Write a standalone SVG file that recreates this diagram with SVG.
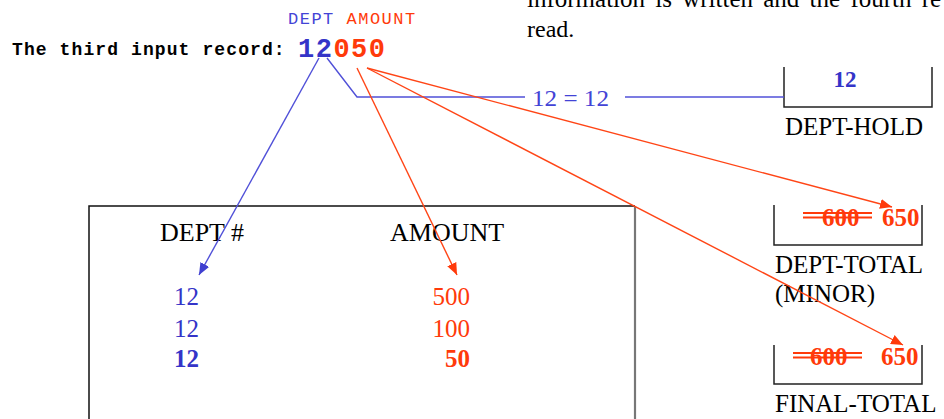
<svg xmlns="http://www.w3.org/2000/svg" width="944" height="419" viewBox="0 0 944 419">
<defs>
<style>
.serif{font-family:"Liberation Serif","Times New Roman",serif}
.mono{font-family:"Liberation Mono","Courier New",monospace}
.blue{fill:#3434c8}
.red{fill:#ff3a0a}
.blk{fill:#000}
.b{font-weight:bold}
.cb{stroke:#5050d8;stroke-width:1.4;fill:none}
.cr{stroke:#ff4516;stroke-width:1.4;fill:none}
.box{stroke:#222;stroke-width:1.5;fill:none}
.strike{stroke:#ff3a0a;stroke-width:1.8}
</style>
<marker id="ab" viewBox="0 0 12 10" refX="12" refY="5" markerWidth="12" markerHeight="10" markerUnits="userSpaceOnUse" orient="auto"><path d="M0,0 L12,5 L0,10 Z" fill="#4040d0"/></marker>
<marker id="ar" viewBox="0 0 12 10" refX="12" refY="5" markerWidth="12" markerHeight="10" markerUnits="userSpaceOnUse" orient="auto"><path d="M0,0 L12,5 L0,10 Z" fill="#ff3a0a"/></marker>
</defs>
<rect width="944" height="419" fill="#fff"/>

<g id="paragraph">
<text class="serif blk" x="527" y="7" font-size="25" word-spacing="4">information is written and the fourth re</text>
<text class="serif blk" x="527" y="37" font-size="24">read.</text>
</g>

<g id="record">
<text class="mono" x="288" y="24" font-size="17" letter-spacing="1.5"><tspan fill="#4343d6">DEPT</tspan> <tspan fill="#ff3a0a">AMOUNT</tspan></text>
<text class="mono b blk" x="12" y="55" font-size="18" letter-spacing="1.1">The third input record:</text>
<text class="mono b" x="298" y="57" font-size="27" letter-spacing="1.5"><tspan class="blue">12</tspan><tspan class="red">050</tspan></text>
</g>

<g id="input-table">
<path d="M89,419 V206 H635" stroke="#111" stroke-width="1.5" fill="none"/>
<path d="M635,206 V419" stroke="#777" stroke-width="2.2" fill="none"/>
<text class="serif blk" x="160" y="241" font-size="26">DEPT #</text>
<text class="serif blk" x="390" y="241" font-size="26">AMOUNT</text>
<text class="serif blue" x="199" y="305" font-size="25" text-anchor="end">12</text>
<text class="serif blue" x="199" y="337" font-size="25" text-anchor="end">12</text>
<text class="serif blue b" x="199" y="367" font-size="25" text-anchor="end">12</text>
<text class="serif red" x="470" y="305" font-size="25" text-anchor="end">500</text>
<text class="serif red" x="470" y="337" font-size="25" text-anchor="end">100</text>
<text class="serif red b" x="470" y="367" font-size="25" text-anchor="end">50</text>
</g>

<g id="dept-hold">
<path class="box" d="M784,67 V107 H932 V67"/>
<text class="serif blue b" x="845" y="87" font-size="23" text-anchor="middle">12</text>
<text class="serif blk" x="785" y="135" font-size="25">DEPT-HOLD</text>
</g>

<g id="dept-total">
<path class="box" d="M774,205 V245 H922 V205"/>
<line class="strike" x1="803" y1="213" x2="872" y2="213"/>
<line class="strike" x1="803" y1="217.5" x2="872" y2="217.5"/>
<text class="serif red b" x="822" y="226" font-size="25">600</text>
<text class="serif red b" x="882" y="226" font-size="25">650</text>
<text class="serif blk" x="775" y="273" font-size="25">DEPT-TOTAL</text>
<text class="serif blk" x="775" y="302" font-size="25">(MINOR)</text>
</g>

<g id="final-total">
<path class="box" d="M774,345 V384 H922 V345"/>
<line class="strike" x1="793" y1="353" x2="862" y2="353"/>
<line class="strike" x1="793" y1="357.5" x2="862" y2="357.5"/>
<text class="serif red b" x="810" y="365" font-size="25">600</text>
<text class="serif red b" x="881" y="365" font-size="25">650</text>
<text class="serif blk" x="775" y="412" font-size="25">FINAL-TOTAL</text>
</g>

<g id="connectors">
<line class="cb" x1="319" y1="58" x2="199" y2="275" marker-end="url(#ab)"/>
<polyline class="cb" points="327,58 357,97 525,97"/>
<text class="serif" fill="#4343d6" x="532" y="106" font-size="23" textLength="77" lengthAdjust="spacingAndGlyphs">12 = 12</text>
<line class="cb" x1="625" y1="97" x2="784" y2="97"/>
<line class="cr" x1="357" y1="68" x2="457" y2="275" marker-end="url(#ar)"/>
<line class="cr" x1="367" y1="68" x2="892" y2="207" marker-end="url(#ar)"/>
<line class="cr" x1="367" y1="68" x2="903" y2="345" marker-end="url(#ar)"/>
</g>
</svg>
